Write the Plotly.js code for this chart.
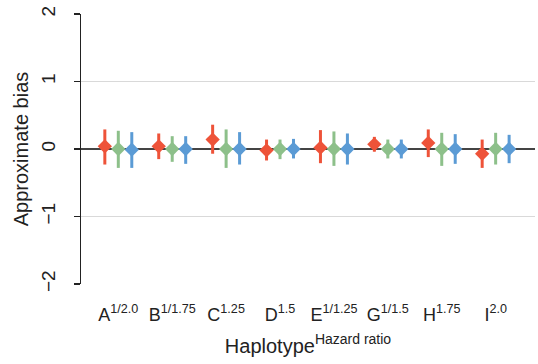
<!DOCTYPE html>
<html>
<head>
<meta charset="utf-8">
<script src="https://cdn.plot.ly/plotly-3.0.1.min.js"></script>
<style>html,body{margin:0;padding:0;background:#fff}#chart{width:538px;height:364px}</style>
</head>
<body>
<div id="chart"></div>
<script>
const haplotypes = ['A','B','C','D','E','G','H','I'];
const hazardRatios = ['1/2.0','1/1.75','1.25','1.5','1/1.25','1/1.5','1.75','2.0'];
const positions = [1,2,3,4,5,6,7,8];

const redEst   = [0.04, 0.04, 0.14, -0.02, 0.02, 0.07, 0.09, -0.07];
const redUpper = [0.29, 0.23, 0.36, 0.14, 0.28, 0.18, 0.29, 0.14];
const redLower = [-0.23, -0.15, -0.07, -0.17, -0.21, -0.04, -0.12, -0.28];

const greenEst   = [0.0, 0.0, 0.0, 0.0, 0.0, 0.0, 0.0, 0.0];
const greenUpper = [0.27, 0.19, 0.29, 0.14, 0.26, 0.14, 0.24, 0.24];
const greenLower = [-0.28, -0.19, -0.28, -0.15, -0.25, -0.14, -0.25, -0.23];

const blueEst   = [-0.01, 0.0, 0.0, 0.0, 0.0, 0.0, 0.0, 0.0];
const blueUpper = [0.25, 0.19, 0.25, 0.15, 0.23, 0.14, 0.22, 0.21];
const blueLower = [-0.28, -0.22, -0.23, -0.14, -0.23, -0.14, -0.22, -0.21];

const tickLabels = haplotypes.map((h, i) => h + '<sup>' + hazardRatios[i] + '</sup>');

function series(est, upper, lower, offset, color) {
  return {
    type: 'scatter', mode: 'markers',
    x: positions.map(p => p + offset),
    y: est,
    marker: {symbol: 'diamond', size: 11, color: color},
    error_y: {
      type: 'data', symmetric: false,
      array: upper.map((u, i) => u - est[i]),
      arrayminus: lower.map((l, i) => est[i] - l),
      thickness: 3, width: 0, color: color
    },
    showlegend: false, hoverinfo: 'skip'
  };
}

const data = [
  series(redEst, redUpper, redLower, -0.25, '#EE5339'),
  series(greenEst, greenUpper, greenLower, 0, '#8DC08A'),
  series(blueEst, blueUpper, blueLower, 0.25, '#5B9BD5')
];

const font = 'Liberation Sans, Arial, sans-serif';
const layout = {
  width: 538, height: 364,
  margin: {l: 81, r: 3, t: 14, b: 80, pad: 0},
  paper_bgcolor: '#fff', plot_bgcolor: '#fff',
  font: {family: font, color: '#222'},
  xaxis: {
    range: [0.308, 8.73],
    tickmode: 'array', tickvals: positions, ticktext: tickLabels,
    showgrid: false, zeroline: false, showline: false, ticks: '',
    tickfont: {size: 18, family: font, color: '#222'},
    ticklabelstandoff: 18,
    title: {text: 'Haplotype<sup>Hazard ratio</sup>', font: {size: 20, family: font, color: '#222'}, standoff: 14}
  },
  yaxis: {
    range: [-2, 2],
    tickmode: 'array', tickvals: [-2, -1, 0, 1, 2],
    showgrid: true, gridcolor: '#d9d9d9', gridwidth: 1.5,
    zeroline: true, zerolinecolor: '#444', zerolinewidth: 2.5,
    showline: true, linecolor: '#222', linewidth: 1.5,
    ticks: 'outside', ticklen: 6, tickwidth: 1.5, tickcolor: '#222',
    tickangle: -90,
    tickfont: {size: 19, family: font, color: '#222'},
    ticklabelstandoff: 11,
    title: {text: 'Approximate bias', font: {size: 20, family: font, color: '#222'}, standoff: 4}
  }
};

Plotly.newPlot('chart', data, layout, {displayModeBar: false, staticPlot: true});
</script>
</body>
</html>
